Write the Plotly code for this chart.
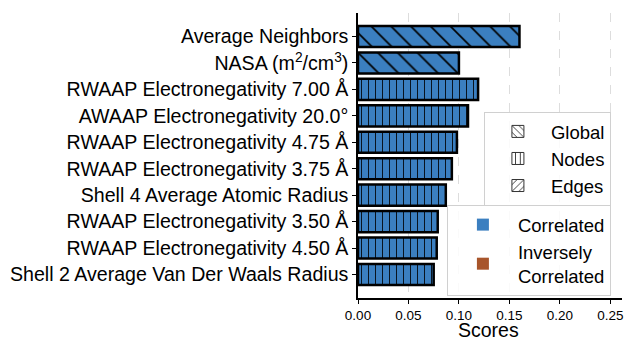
import plotly.graph_objects as go

features = [
    "Average Neighbors",
    "NASA (m<sup>2</sup>/cm<sup>3</sup>)",
    "RWAAP Electronegativity 7.00 Å",
    "AWAAP Electronegativity 20.0°",
    "RWAAP Electronegativity 4.75 Å",
    "RWAAP Electronegativity 3.75 Å",
    "Shell 4 Average Atomic Radius",
    "RWAAP Electronegativity 3.50 Å",
    "RWAAP Electronegativity 4.50 Å",
    "Shell 2 Average Van Der Waals Radius",
]
scores = [0.160, 0.100, 0.119, 0.109, 0.098, 0.093, 0.087, 0.079, 0.078, 0.075]
feature_type = ["Global", "Global", "Nodes", "Nodes", "Nodes", "Nodes", "Nodes", "Nodes", "Nodes", "Nodes"]
direction = ["Correlated"] * 10
x_ticks = [0.0, 0.05, 0.10, 0.15, 0.20, 0.25]
x_title = "Scores"

BLUE = "#3b7fc0"
BROWN = "#a8552b"
hatch = {"Global": "\\", "Nodes": "|", "Edges": "/"}
hatch_size = {"Global": 14, "Nodes": 7, "Edges": 14}
dir_color = {"Correlated": BLUE, "Inversely Correlated": BROWN}

fig = go.Figure()
# One trace per (type, direction) group so each has a scalar pattern
groups = []
for t, d in zip(feature_type, direction):
    if (t, d) not in groups:
        groups.append((t, d))
for t, d in groups:
    idx = [i for i in range(len(features)) if feature_type[i] == t and direction[i] == d]
    fig.add_trace(go.Bar(
        y=[features[i] for i in idx], x=[scores[i] for i in idx],
        orientation="h", width=0.8,
        marker=dict(
            color=dir_color[d],
            line=dict(color="black", width=2.5),
            pattern=dict(shape=hatch[t], size=hatch_size[t],
                         fgcolor="black", fgopacity=1, solidity=0.12, fillmode="overlay"),
        ),
        showlegend=False,
    ))

# Legend entries: feature types
for name in ["Global", "Nodes", "Edges"]:
    fig.add_trace(go.Bar(
        y=[None], x=[None], orientation="h", name=name, legend="legend",
        marker=dict(color="white", line=dict(color="#333333", width=1),
                    pattern=dict(shape=hatch[name], size=6, fgcolor="black", bgcolor="white",
                                 fgopacity=1, solidity=0.15, fillmode="replace")),
    ))
# Legend entries: correlation direction
for name, label in [("Correlated", "Correlated"), ("Inversely Correlated", "Inversely<br>Correlated")]:
    fig.add_trace(go.Bar(
        y=[None], x=[None], orientation="h", name=label, legend="legend2",
        marker=dict(color=dir_color[name], line=dict(color=dir_color[name], width=0)),
    ))

n = len(features)
fig.update_layout(
    width=625, height=338,
    margin=dict(l=358, r=3, t=13, b=40),
    paper_bgcolor="white", plot_bgcolor="white",
    barmode="overlay",
    font=dict(family="Liberation Sans, Arial, sans-serif", color="black"),
    xaxis=dict(
        range=[0, 0.2616], tickvals=x_ticks, ticktext=[f"{v:.2f}" for v in x_ticks],
        showgrid=True, gridcolor="#dddddd", griddash="dash", gridwidth=1,
        showline=True, linecolor="black", linewidth=1.5,
        ticks="outside", ticklen=4, tickcolor="black",
        tickfont=dict(size=13.5),
        zeroline=False,
    ),
    yaxis=dict(
        type="category", categoryorder="array", categoryarray=features,
        range=[n - 1 + 0.89, -0.89],
        showline=True, linecolor="black", linewidth=1.5,
        ticks="outside", ticklen=4, tickcolor="black",
        tickfont=dict(size=19.6), showgrid=False,
    ),
    legend=dict(
        x=0.958, y=0.653, xanchor="right", yanchor="top",
        bgcolor="rgba(255,255,255,0.85)", bordercolor="#d0d0d0", borderwidth=1,
        font=dict(size=18.5), itemwidth=56, tracegroupgap=0,
    ),
    legend2=dict(
        x=0.958, y=0.326, xanchor="right", yanchor="top",
        bgcolor="rgba(255,255,255,0.85)", bordercolor="#d0d0d0", borderwidth=1,
        font=dict(size=18.5), itemwidth=60, tracegroupgap=0,
    ),
    annotations=[dict(
        text=x_title, xref="paper", yref="paper", x=0.496, y=-0.113,
        xanchor="center", yanchor="middle", showarrow=False,
        font=dict(size=19.5), borderpad=0,
    )],
)

fig.write_html("out.html")
